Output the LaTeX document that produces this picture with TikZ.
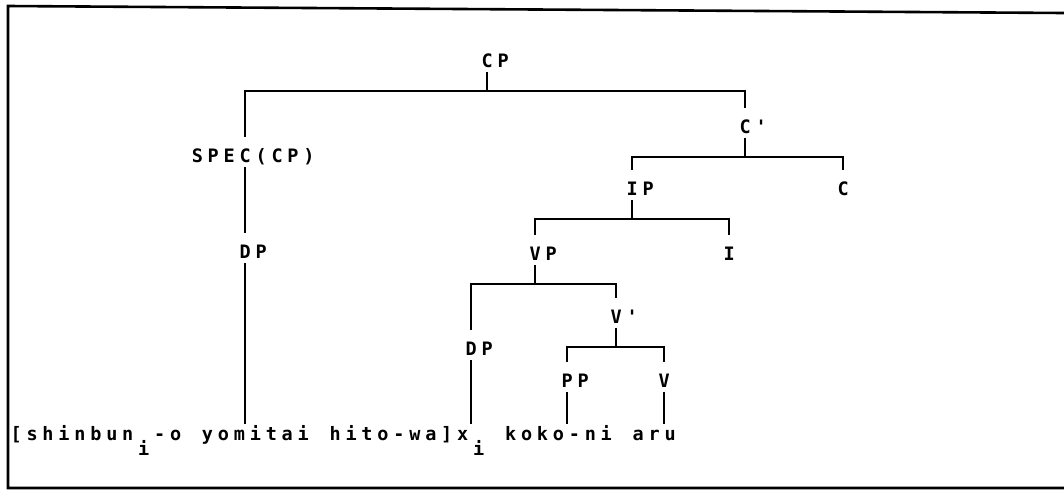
\documentclass[tikz,border=0pt]{standalone}
\usepackage{fontspec}
\newfontfamily\treefont{DejaVu Sans Mono Bold}[Ligatures=TeXOff]
\def\cell{15.95}
\def\labels{{(487,67)/cp/0/CP}, {(245,162)/spec/3/SPEC(CP)}, {(245,258)/dpa/0/DP},
  {(745,133)/cbar/0/C'}, {(632,195)/ip/0/IP}, {(843,195)/c/0/C}, {(535,260)/vp/0/VP},
  {(729,260)/i/0/I}, {(616,323)/vbar/0/V'}, {(471,355)/dpb/0/DP}, {(567,387)/pp/0/PP},
  {(664,387)/v/0/V}}
\def\branches{cp/spec/cbar, cbar/ip/c, ip/vp/i, vp/dpb/vbar, vbar/pp/v}
% one character per fixed cell, like the printout
\makeatletter
\def\grid#1{\expandafter\grid@#1\@nil}
\def\grid@#1{\ifx#1\@nil\else\makebox[\cell pt]{#1}\expandafter\grid@\fi}
\makeatother
\newcommand\subi{\raisebox{-15pt}{i}}
\tikzstyle{slot}=[inner sep=0pt, minimum size=0pt, text height=26pt, text depth=6pt, anchor=base]
\tikzstyle{treetext}=[font=\treefont\fontsize{18.5pt}{20pt}\selectfont, inner sep=0pt, anchor=base west]
\tikzstyle{words}=[treetext, text height=17pt, text depth=0pt]
\tikzstyle{branch}=[draw, line width=1.6pt, line cap=rect]
\tikzstyle{frame}=[draw, line width=2.6pt]

\begin{document}
\begin{tikzpicture}[x=1pt,y=-1pt]
  \useasboundingbox (0,0) rectangle (1064,491);
  \draw[frame] (1064,13) -- (8,6) -- (8,488) -- (1064,488);

  % First we draw the labels
  \foreach \pos/\name/\k/\txt in \labels {
    \node[slot] (\name) at \pos {};
    \node[treetext] (\name-t) at ([xshift={-(\k+0.5)*\cell*1pt}]\name.base) {\grid{\txt}};
  }
  \node[words] (words) at (8,440)
    {\grid{[shinbun\subi-o~yomitai~hito-wa]x\subi~koko-ni~aru}};

  % Connect parents with their children
  \foreach \p/\a/\b in \branches {
    \draw[branch] (\p.south) -- ++(0,18) coordinate (\p-bar);
    \draw[branch] (\a.north) |- (\p-bar) -| (\b.north);
  }
  \draw[branch] (spec.south) -- (dpa.north);
  \foreach \a in {dpa,dpb,pp,v}
    \draw[branch] (\a.south) -- (\a.south |- words.north);
\end{tikzpicture}
\end{document}
